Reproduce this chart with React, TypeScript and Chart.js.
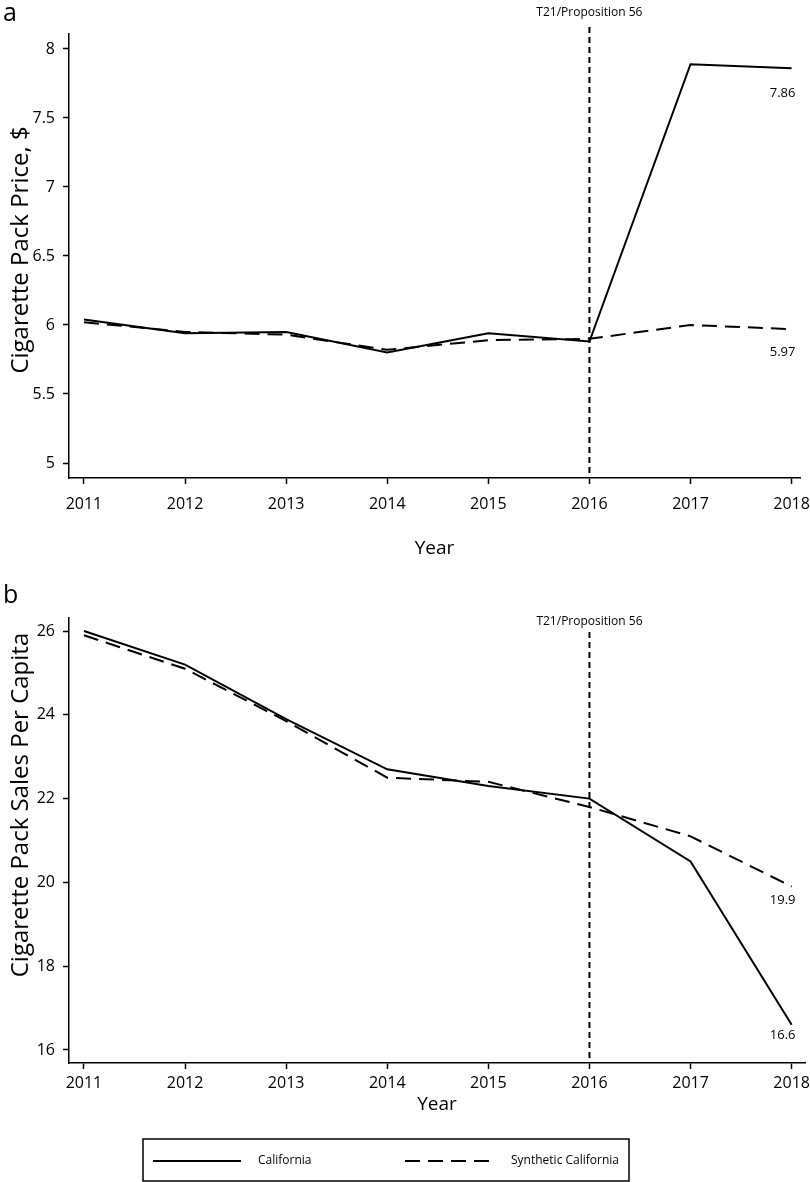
import { useEffect, useRef } from "react";
import { Chart, registerables } from "chart.js";

Chart.register(...registerables);

// ---------- data ----------
const years = [2011, 2012, 2013, 2014, 2015, 2016, 2017, 2018];
const priceCalifornia = [6.04, 5.94, 5.95, 5.8, 5.94, 5.88, 7.89, 7.86];
const priceSynthetic = [6.02, 5.95, 5.93, 5.82, 5.89, 5.9, 6.0, 5.97];
const salesCalifornia = [26.0, 25.2, 23.9, 22.7, 22.3, 22.0, 20.5, 16.6];
const salesSynthetic = [25.9, 25.1, 23.85, 22.5, 22.4, 21.8, 21.1, 19.9];
const seriesNames = ["California", "Synthetic California"];
const priceEndLabels = ["7.86", "5.97"];
const salesEndLabels = ["16.6", "19.9"];
const interventionYear = 2016;
const interventionLabel = "T21/Proposition 56";
const priceTickStep = 0.5;
const salesTickStep = 2;

const FONT = "'Open Sans', 'Noto Sans', sans-serif";
const W = 810;
const X_MIN = 2010.852;

type PanelCfg = {
  letter: string;
  yTitle: string;
  yTitleCenter: number;
  yMin: number;
  yMax: number;
  yStep: number;
  ca: number[];
  syn: number[];
  endLabels: string[];
  endOffsets: number[];
  xMax: number;
  height: number;
  padTop: number;
  padRight: number;
  padBottom: number;
  xAxisHeight: number;
  xTickPadding: number;
  letterY: number;
  interventionLabelY: number;
  lineTop: number;
  legend: boolean;
};

function panelPlugin(cfg: PanelCfg) {
  return {
    id: "panelExtras" + cfg.letter,
    afterDraw(chart: any) {
      const ctx = chart.ctx as CanvasRenderingContext2D;
      const xs = chart.scales.x;
      const ys = chart.scales.y;
      ctx.save();
      // panel letter
      ctx.fillStyle = "#000";
      ctx.font = `25px ${FONT}`;
      ctx.textAlign = "left";
      ctx.textBaseline = "middle";
      ctx.fillText(cfg.letter, 3, cfg.letterY);

      // y-axis title
      ctx.save();
      ctx.translate(28, cfg.yTitleCenter);
      ctx.rotate(-Math.PI / 2);
      ctx.textAlign = "center";
      ctx.textBaseline = "alphabetic";
      ctx.font = `24px ${FONT}`;
      ctx.fillText(cfg.yTitle, 0, 0);
      ctx.restore();

      // intervention line
      const xi = xs.getPixelForValue(interventionYear);
      ctx.strokeStyle = "#000";
      ctx.lineWidth = 2;
      ctx.setLineDash([6, 4]);
      ctx.beginPath();
      ctx.moveTo(xi, cfg.lineTop);
      ctx.lineTo(xi, chart.chartArea.bottom);
      ctx.stroke();
      ctx.setLineDash([]);
      ctx.font = `12px ${FONT}`;
      ctx.textAlign = "center";
      ctx.fillText(interventionLabel, xi, cfg.interventionLabelY);

      // end value labels
      ctx.font = `13px ${FONT}`;
      const lastX = xs.getPixelForValue(years[years.length - 1]);
      const ends = [cfg.ca[cfg.ca.length - 1], cfg.syn[cfg.syn.length - 1]];
      ends.forEach((v, i) => {
        const y = ys.getPixelForValue(v) + cfg.endOffsets[i];
        ctx.fillText(cfg.endLabels[i], lastX - 9, y);
      });

      // legend
      if (cfg.legend) {
        const top = 1139 - 560;
        ctx.lineWidth = 1.5;
        ctx.strokeRect(143, top, 486, 42);
        const ly = top + 22;
        ctx.lineWidth = 2;
        ctx.beginPath();
        ctx.moveTo(153, ly);
        ctx.lineTo(241, ly);
        ctx.stroke();
        ctx.setLineDash([15, 8]);
        ctx.beginPath();
        ctx.moveTo(405, ly);
        ctx.lineTo(492, ly);
        ctx.stroke();
        ctx.setLineDash([]);
        ctx.textAlign = "left";
        ctx.font = `12px ${FONT}`;
        ctx.fillText(seriesNames[0], 258, ly);
        ctx.fillText(seriesNames[1], 511, ly);
      }
      ctx.restore();
    },
  };
}

function buildChart(canvas: HTMLCanvasElement, cfg: PanelCfg) {
  const toPts = (arr: number[]) => years.map((y, i) => ({ x: y, y: arr[i] }));
  return new Chart(canvas, {
    type: "line",
    data: {
      datasets: [
        {
          label: seriesNames[0],
          data: toPts(cfg.ca),
          borderColor: "#000",
          borderWidth: 2,
          pointRadius: 0,
          tension: 0,
          fill: false,
        },
        {
          label: seriesNames[1],
          data: toPts(cfg.syn),
          borderColor: "#000",
          borderWidth: 2,
          borderDash: [15, 8],
          pointRadius: 0,
          tension: 0,
          fill: false,
        },
      ],
    },
    options: {
      animation: false,
      responsive: false,
      devicePixelRatio: 1,
      layout: {
        padding: { top: cfg.padTop, right: cfg.padRight, bottom: cfg.padBottom, left: 0 },
      },
      plugins: { legend: { display: false }, tooltip: { enabled: false } },
      scales: {
        x: {
          type: "linear",
          min: X_MIN,
          max: cfg.xMax,
          afterFit: (s: any) => {
            s.height = cfg.xAxisHeight;
            s.paddingLeft = 0;
            s.paddingRight = 0;
          },
          ticks: {
            stepSize: 1,
            includeBounds: false,
            maxRotation: 0,
            color: "#000",
            font: { family: FONT, size: 16 },
            padding: cfg.xTickPadding,
            callback: (v: any) => String(Math.round(Number(v))),
          },
          grid: {
            display: true,
            drawOnChartArea: false,
            drawTicks: true,
            tickLength: 6,
            tickColor: "#000",
            tickWidth: 1.5,
          },
          border: { display: true, color: "#000", width: 1.5 },
          title: {
            display: true,
            text: "Year",
            color: "#000",
            font: { family: FONT, size: 19 },
            padding: { top: 0, bottom: 0 },
          },
        },
        y: {
          type: "linear",
          min: cfg.yMin,
          max: cfg.yMax,
          afterFit: (s: any) => {
            s.width = 69;
            s.paddingTop = 0;
            s.paddingBottom = 0;
          },
          ticks: {
            stepSize: cfg.yStep,
            includeBounds: false,
            color: "#000",
            font: { family: FONT, size: 16 },
            padding: 8,
            callback: (v: any) => String(Math.round(Number(v) * 100) / 100),
          },
          grid: {
            display: true,
            drawOnChartArea: false,
            drawTicks: true,
            tickLength: 6,
            tickColor: "#000",
            tickWidth: 1.5,
          },
          border: { display: true, color: "#000", width: 1.5 },
          title: { display: false },
        },
      },
    },
    plugins: [panelPlugin(cfg)],
  } as any);
}

const panelA: PanelCfg = {
  letter: "a",
  yTitle: "Cigarette Pack Price, $",
  yTitleCenter: 250,
  yMin: 5 - 15 / 138,
  yMax: 8 + 15 / 138,
  yStep: priceTickStep,
  ca: priceCalifornia,
  syn: priceSynthetic,
  endLabels: [priceEndLabels[0], priceEndLabels[1]],
  endOffsets: [25, 23],
  xMax: 2018.083,
  height: 560,
  padTop: 34,
  padRight: 10,
  padBottom: 0,
  xAxisHeight: 82,
  xTickPadding: 11,
  letterY: 14,
  interventionLabelY: 13,
  lineTop: 27,
  legend: false,
};

const panelB: PanelCfg = {
  letter: "b",
  yTitle: "Cigarette Pack Sales Per Capita",
  yTitleCenter: 805 - 560,
  yMin: 16 - 13 / 41.7,
  yMax: 26 + 13 / 41.7,
  yStep: salesTickStep,
  ca: salesCalifornia,
  syn: salesSynthetic,
  endLabels: [salesEndLabels[0], salesEndLabels[1]],
  endOffsets: [10, 14],
  xMax: 2018.132,
  height: 622,
  padTop: 58,
  padRight: 5,
  padBottom: 66,
  xAxisHeight: 53,
  xTickPadding: 5,
  letterY: 36,
  interventionLabelY: 62,
  lineTop: 72,
  legend: true,
};

function Panel({ cfg, top }: { cfg: PanelCfg; top: number }) {
  const ref = useRef<HTMLCanvasElement | null>(null);
  useEffect(() => {
    if (!ref.current) return;
    const chart = buildChart(ref.current, cfg);
    return () => chart.destroy();
  }, [cfg]);
  return (
    <canvas
      ref={ref}
      width={W}
      height={cfg.height}
      style={{ position: "absolute", left: 0, top, width: W, height: cfg.height, display: "block" }}
    />
  );
}

export default function App() {
  return (
    <div style={{ background: "#fff" }}>
      <Panel cfg={panelA} top={0} />
      <Panel cfg={panelB} top={560} />
    </div>
  );
}
